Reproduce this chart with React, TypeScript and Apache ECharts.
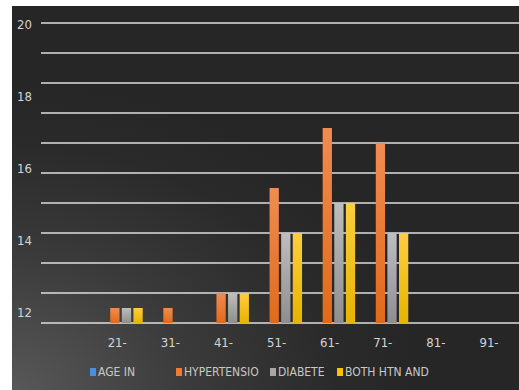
import React, { useEffect, useRef } from "react";
import * as echarts from "echarts";

const categories = ["", "21-", "31-", "41-", "51-", "61-", "71-", "81-", "91-"];
const ageIn: (number | null)[] = [null, null, null, null, null, null, null, null, null];
const hypertension: (number | null)[] = [null, 12.4, 12.4, 12.8, 15.6, 17.2, 16.8, null, null];
const diabete: (number | null)[] = [null, 12.4, null, 12.8, 14.4, 15.2, 14.4, null, null];
const bothHtnAnd: (number | null)[] = [null, 12.4, null, 12.8, 14.4, 15.2, 14.4, null, null];
const seriesNames = ["AGE IN", "HYPERTENSIO", "DIABETE", "BOTH HTN AND"];
const yTickLabels = [12, 14, 16, 18, 20];

const FONT = '"Liberation Sans Narrow", "Arial Narrow", "DejaVu Sans Condensed", sans-serif';

const grad = (top: string, bottom: string) => ({
  type: "linear",
  x: 0,
  y: 0,
  x2: 0,
  y2: 1,
  colorStops: [
    { offset: 0, color: top },
    { offset: 1, color: bottom },
  ],
});

export default function App() {
  const ref = useRef<HTMLDivElement>(null);
  useEffect(() => {
    document.body.style.margin = "0";
    if (!ref.current) return;
    const chart = echarts.init(ref.current, null, { renderer: "svg" });
    const legendColors = ["#4b8fdc", "#f07a2e", "#a6a6a6", "#ffc000"];
    const legendLefts = [90, 176, 270, 337];
    const seriesData = [ageIn, hypertension, diabete, bothHtnAnd];
    const barColors = [
      grad("#5a9ae0", "#3f7fc8"),
      grad("#f08c52", "#e2691a"),
      grad("#bebebe", "#8e8e8e"),
      grad("#ffcd40", "#e6b400"),
    ];
    chart.setOption({
      animation: false,
      graphic: [
        {
          type: "rect",
          z: -10,
          shape: { x: 12, y: 6, width: 507, height: 384 },
          style: {
            fill: {
              type: "radial",
              x: 0,
              y: 1,
              r: 0.8,
              colorStops: [
                { offset: 0, color: "#585858" },
                { offset: 0.45, color: "#3a3a3a" },
                { offset: 0.8, color: "#2a2a2a" },
                { offset: 1, color: "#262626" },
              ],
            },
          },
          silent: true,
        },
      ],
      grid: [
        { left: 41, right: 0, top: 23, bottom: 67, containLabel: false },
        { left: 41, width: 10, top: 24.7, bottom: 78, containLabel: false },
      ],
      xAxis: [
        {
          type: "category",
          gridIndex: 0,
          data: categories,
          axisLine: { show: false },
          axisTick: { show: false },
          axisLabel: {
            margin: 13,
            formatter: (v: string) => `{a|${v}}`,
            rich: {
              a: {
                width: 26,
                align: "left",
                color: "#d4d4d4",
                fontSize: 13,
                fontFamily: FONT,
              },
            },
          },
        },
        { type: "value", gridIndex: 1, show: false },
      ],
      yAxis: [
        {
          type: "value",
          gridIndex: 0,
          min: 12,
          max: 20,
          interval: 0.8,
          axisLabel: { show: false },
          axisLine: { show: false },
          axisTick: { show: false },
          splitLine: { show: true, lineStyle: { color: "#dedede", width: 1.6 } },
        },
        {
          type: "value",
          gridIndex: 1,
          min: yTickLabels[0],
          max: yTickLabels[yTickLabels.length - 1],
          interval: yTickLabels[1] - yTickLabels[0],
          axisLine: { show: false },
          axisTick: { show: false },
          splitLine: { show: false },
          axisLabel: {
            margin: 9,
            color: "#d4d4d4",
            fontSize: 13,
            fontFamily: FONT,
          },
        },
      ],
      legend: seriesNames.map((name, i) => ({
        left: legendLefts[i],
        top: 366,
        icon: "rect",
        itemWidth: 6,
        itemHeight: 8,
        selectedMode: false,
        padding: 0,
        textStyle: { color: "#c8c8c8", fontSize: 12, fontFamily: FONT, padding: [0, 0, 0, -3] },
        data: [{ name, itemStyle: { color: legendColors[i] } }],
      })),
      series: seriesNames.map((name, i) => ({
        name,
        type: "bar",
        xAxisIndex: 0,
        yAxisIndex: 0,
        barGap: "25%",
        barCategoryGap: "17%",
        data: seriesData[i],
        itemStyle: { color: barColors[i] },
      })),
    });
    return () => chart.dispose();
  }, []);
  return <div ref={ref} style={{ width: 519, height: 390 }} />;
}
